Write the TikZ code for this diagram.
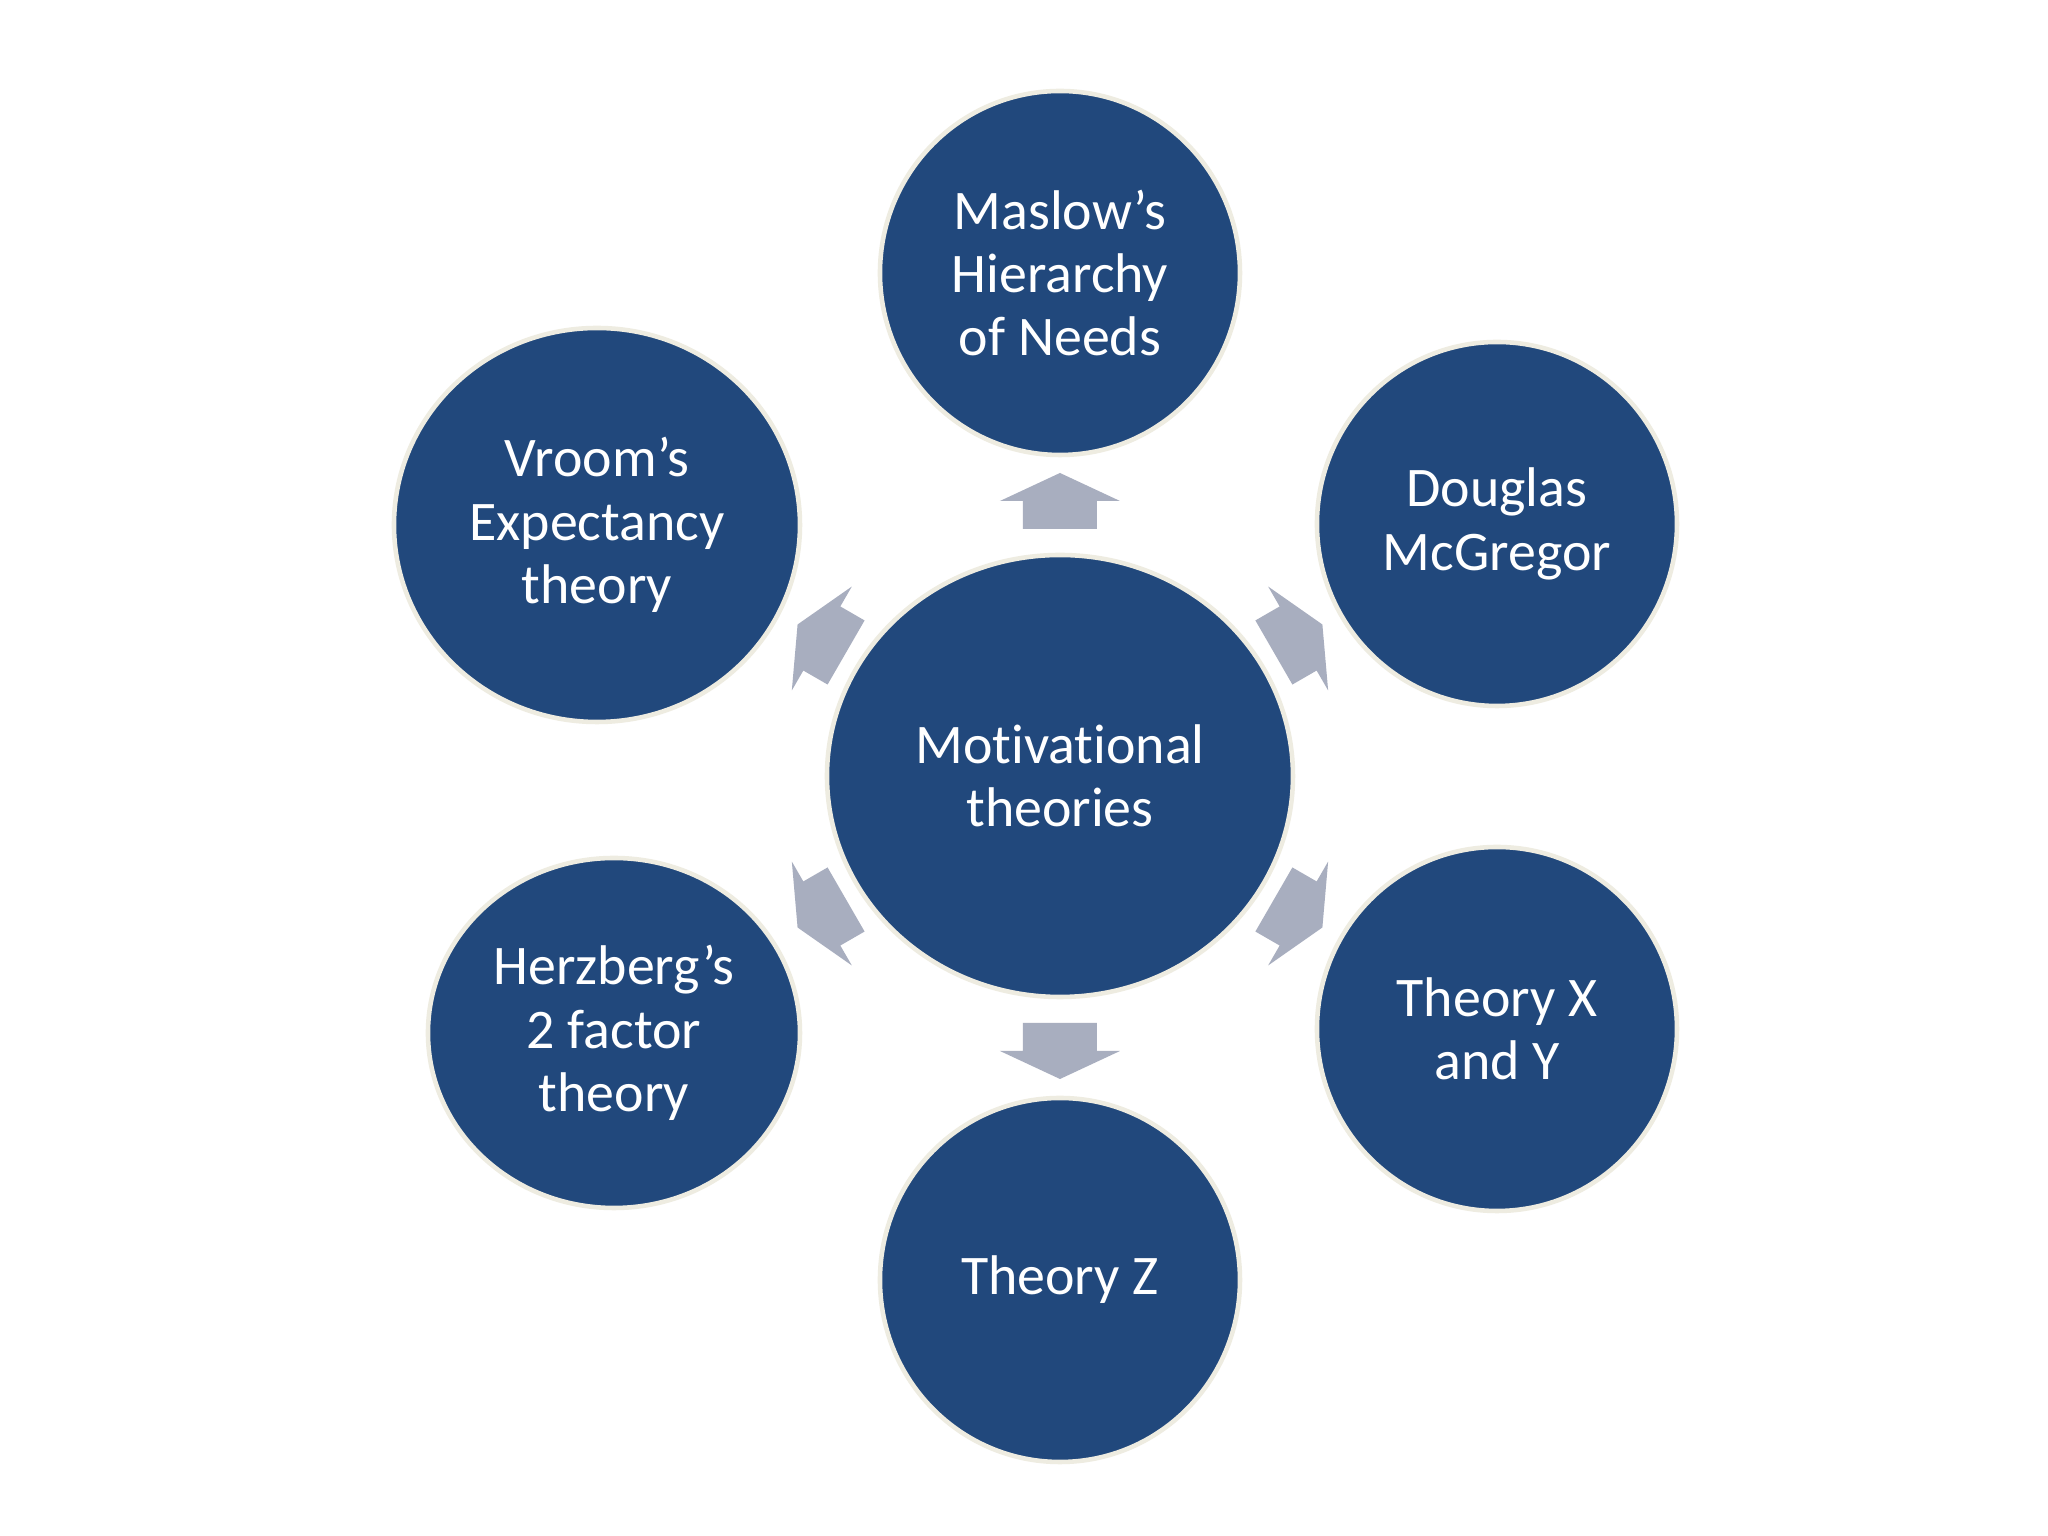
\documentclass[tikz,border=0pt]{standalone}
\usepackage{fontspec}
\setmainfont[Ligatures=NoCommon]{Carlito}
\usetikzlibrary{shapes.geometric}
\definecolor{theoryblue}{HTML}{21487C}
\definecolor{rimcream}{HTML}{EEECE1}
\definecolor{arrowgrey}{HTML}{A8AEBF}
\begin{document}
\begin{tikzpicture}[
    bubble/.style={ellipse, fill=theoryblue, draw=rimcream, line width=1.3pt,
        inner sep=0pt, text=white, align=center,
        font=\fontsize{15.9}{18}\selectfont},
    smallbubble/.style={bubble, minimum width=3.6cm, minimum height=3.64cm}]
\useasboundingbox[fill=white](-10.60,-7.60) rectangle (9.88,7.76);
% arrows from the middle outwards
\foreach \ang in {90,30,-30,-90,-150,150}
    \fill[arrowgrey, rotate=\ang](2.47,-0.37)--(2.75,-0.37)--(2.75,-0.60)--(3.03,0)
        --(2.75,0.60)--(2.75,0.37)--(2.47,0.37)--cycle;
\node[bubble, minimum width=4.66cm, minimum height=4.42cm] (motiv) at (0,0) {Motivational\\theories};
\node[smallbubble] (maslow) at (0,5.03) {Maslow’s\\Hierarchy\\of Needs};
\node[smallbubble] (douglas) at (4.37,2.52) {Douglas\\McGregor};
\node[smallbubble] (theoryxy) at (4.37,-2.53) {Theory X\\and Y};
\node[smallbubble] (theoryz) at (0,-5.04) {Theory Z};
\node[bubble, minimum width=3.72cm, minimum height=3.50cm] (herzberg) at (-4.46,-2.57) {Herzberg’s\\2 factor\\theory};
\node[bubble, minimum width=4.06cm, minimum height=3.94cm] (vroom) at (-4.63,2.51) {Vroom’s\\Expectancy\\theory};
\end{tikzpicture}
\end{document}
